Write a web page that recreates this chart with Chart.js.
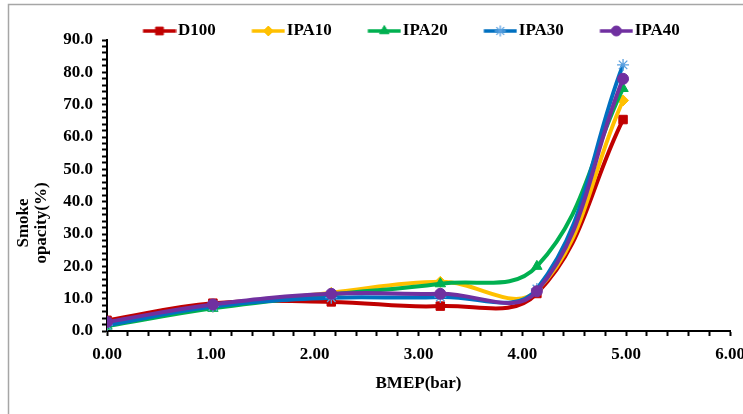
<!DOCTYPE html>
<html>
<head>
<meta charset="utf-8">
<script src="https://cdn.jsdelivr.net/npm/chart.js@4/dist/chart.umd.min.js"></script>
<style>
html,body{margin:0;padding:0;background:#fff;}
#wrap{width:743px;height:414px;position:relative;}
</style>
</head>
<body>
<div id="wrap"><canvas id="c" width="743" height="414"></canvas></div>
<script>
// ---- data ----
const bmep   = [0.00, 1.02, 2.16, 3.21, 4.14, 4.97];
const D100   = [3.3, 8.6, 9.0, 7.7, 11.6, 65.4];
const IPA10  = [2.0, 7.5, 11.8, 15.2, 12.5, 71.3];
const IPA20  = [1.5, 7.0, 11.3, 14.6, 20.0, 75.0];
const IPA30  = [1.8, 7.6, 10.3, 10.5, 13.0, 82.3];
const IPA40  = [2.8, 8.2, 11.5, 11.5, 12.3, 78.0];
const seriesNames = ['D100', 'IPA10', 'IPA20', 'IPA30', 'IPA40'];
const xTickLabels = ['0.00', '1.00', '2.00', '3.00', '4.00', '5.00', '6.00'];
const yTickLabels = ['0.0', '10.0', '20.0', '30.0', '40.0', '50.0', '60.0', '70.0', '80.0', '90.0'];
const xTitle = 'BMEP(bar)';
const yTitleLines = ['Smoke', 'opacity(%)'];

const seriesValues = [D100, IPA10, IPA20, IPA30, IPA40];
const colors = ['#C00000', '#FFC000', '#00B050', '#0070C0', '#7030A0'];
const styles = ['rect', 'rectRot', 'triangle', 'star', 'circle'];
const radii  = [6, 5.5, 6, 6, 5.5];

const FONT = '"Liberation Serif", "Times New Roman", serif';
const FS = 17;

function legendImage(i) {
  const cv = document.createElement('canvas');
  cv.width = 54; cv.height = 16;
  const ctx = cv.getContext('2d');
  ctx.strokeStyle = colors[i];
  ctx.lineWidth = 3.5;
  ctx.beginPath(); ctx.moveTo(20.5, 8); ctx.lineTo(53.5, 8); ctx.stroke();
  ctx.fillStyle = colors[i];
  ctx.strokeStyle = styles[i] === 'star' ? '#5aa0e0' : colors[i];
  ctx.lineWidth = styles[i] === 'star' ? 1.3 : 1;
  Chart.helpers.drawPoint(ctx, {pointStyle: styles[i], radius: radii[i] - 0.5, rotation: 0, borderWidth: 1}, 37, 8);
  return cv;
}

const datasets = seriesNames.map((name, i) => ({
  label: name,
  data: bmep.map((x, j) => ({x: x, y: seriesValues[i][j]})),
  borderColor: colors[i],
  backgroundColor: colors[i],
  borderWidth: 4,
  pointStyle: styles[i],
  pointRadius: radii[i],
  pointBorderWidth: styles[i] === 'star' ? 1.3 : 1,
  pointBorderColor: styles[i] === 'star' ? '#5aa0e0' : colors[i],
  tension: 0.4,
  fill: false,
  order: 5 - i
}));

const LEGEND_H = 40;
const legendFitPlugin = {
  id: 'legendFit',
  beforeLayout(chart) {
    const lg = chart.legend;
    if (lg && !lg._fitPatched) {
      const orig = lg.fit;
      lg.fit = function () { orig.call(this); this.height = LEGEND_H; };
      lg._fitPatched = true;
    }
  }
};

const framePlugin = {
  id: 'frame',
  beforeDraw(chart) {
    const ctx = chart.ctx;
    ctx.save();
    ctx.strokeStyle = '#a6a6a6';
    ctx.lineWidth = 1.5;
    ctx.strokeRect(8.5, 4.5, 900, 600);
    ctx.restore();
  },
  afterDraw(chart) {
    const ctx = chart.ctx;
    ctx.save();
    ctx.fillStyle = '#000';
    ctx.font = 'bold ' + FS + 'px ' + FONT;
    ctx.textAlign = 'center';
    ctx.textBaseline = 'middle';
    const cy = 223;
    const xs = [24, 42];
    yTitleLines.forEach((t, k) => {
      ctx.save();
      ctx.translate(xs[k], cy);
      ctx.rotate(-Math.PI / 2);
      ctx.fillText(t, 0, 0);
      ctx.restore();
    });
    ctx.restore();
  }
};

new Chart(document.getElementById('c'), {
  type: 'line',
  data: {datasets: datasets},
  options: {
    responsive: false,
    animation: false,
    devicePixelRatio: 1,
    layout: {padding: {left: 0, right: 13, top: 0, bottom: 0}},
    plugins: {
      tooltip: {enabled: false},
      legend: {
        display: true,
        position: 'top',
        fullSize: false,
        align: 'start',
        labels: {
          usePointStyle: true,
          pointStyleWidth: 40,
          padding: 22.5,
          color: '#000',
          font: {family: FONT, size: FS, weight: 'bold'},
          sort: (a, b) => a.datasetIndex - b.datasetIndex,
          generateLabels(chart) {
            return seriesNames.map((name, i) => ({
              text: name,
              datasetIndex: i,
              pointStyle: legendImage(i),
              fillStyle: colors[i],
              strokeStyle: colors[i],
              lineWidth: 0,
              hidden: false
            }));
          }
        }
      }
    },
    scales: {
      x: {
        type: 'linear',
        min: 0, max: 6,
        ticks: {
          stepSize: 0.2,
          autoSkip: false,
          maxRotation: 0,
          padding: 8,
          color: '#000',
          font: {family: FONT, size: FS, weight: 'bold'},
          callback(v) {
            const r = Math.round(v);
            return Math.abs(v - r) < 1e-6 ? xTickLabels[r] : '';
          }
        },
        grid: {display: true, drawOnChartArea: false, drawTicks: true, tickLength: 5, tickColor: '#000', tickWidth: 2},
        border: {display: true, color: '#000', width: 2},
        title: {display: true, text: xTitle, color: '#000', font: {family: FONT, size: FS, weight: 'bold'}, padding: {top: 4, bottom: 20}},
        afterFit(scale) { scale.height = 83; scale.paddingRight = 0; scale.paddingLeft = 0; }
      },
      y: {
        type: 'linear',
        min: 0, max: 90,
        ticks: {
          stepSize: 2,
          autoSkip: false,
          padding: 9,
          color: '#000',
          font: {family: FONT, size: FS, weight: 'bold'},
          callback(v) {
            return (Math.abs(v % 10) < 1e-6) ? yTickLabels[Math.round(v / 10)] : '';
          }
        },
        grid: {display: true, drawOnChartArea: false, drawTicks: true, tickLength: 5, tickColor: '#000', tickWidth: 2},
        border: {display: true, color: '#000', width: 2},
        afterFit(scale) { scale.width = 107; }
      }
    }
  },
  plugins: [legendFitPlugin, framePlugin]
});
</script>
</body>
</html>
